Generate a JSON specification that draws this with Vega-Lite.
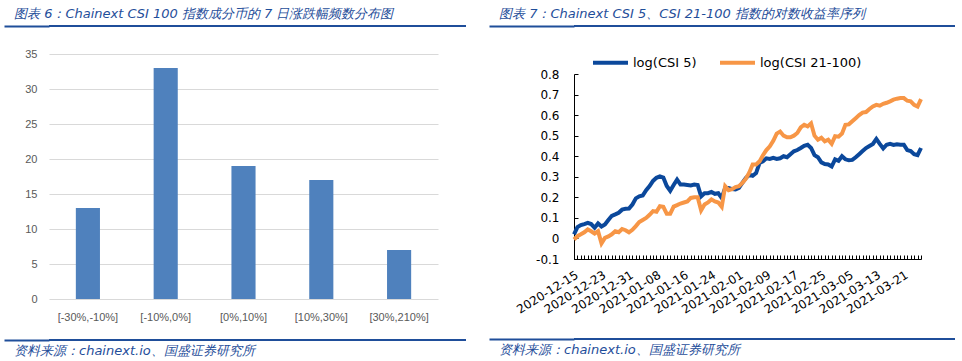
{
  "$schema": "https://vega.github.io/schema/vega-lite/v6.json",
  "padding": {"left": 3, "top": 8, "right": 0, "bottom": 0},
  "background": "white",
  "config": {"view": {"stroke": null}},
  "spacing": 22,
  "resolve": {"scale": {"color": "independent"}, "legend": {"color": "independent"}},
  "hconcat": [
    {
      "spacing": 21,
      "vconcat": [
        {
          "width": 417, "height": 2,
          "data": {"values": []},
          "mark": "point",
          "encoding": {"y": {"field": "v", "type": "quantitative", "scale": {"domain": [0, 1]}, "axis": {"title": null, "values": [0.5], "labels": false, "domain": false, "grid": false, "tickSize": 45, "tickWidth": 2, "tickColor": "#1F4E9A", "minExtent": 45, "maxExtent": 45}}},
          "view": {"fill": "#1F4E9A", "stroke": null},
          "title": {"text": "图表 6：Chainext CSI 100 指数成分币的 7 日涨跌幅频数分布图", "anchor": "start", "dx": 11, "offset": -6, "baseline": "alphabetic", "font": "DejaVu Sans", "fontStyle": "italic", "fontWeight": "normal", "fontSize": 13, "color": "#1F4E9A"}
        },
        {
          "spacing": 17,
          "vconcat": [
            {
              "width": 389, "height": 245,
              "data": {"values": [
                {"range": "[-30%,-10%]", "count": 13},
                {"range": "[-10%,0%]", "count": 33},
                {"range": "[0%,10%]", "count": 19},
                {"range": "[10%,30%]", "count": 17},
                {"range": "[30%,210%]", "count": 7}
              ]},
              "mark": {"type": "bar", "color": "#4F81BD"},
              "encoding": {
                "x": {"field": "range", "type": "nominal", "sort": null,
                  "scale": {"paddingInner": 0.69, "paddingOuter": 0.345},
                  "axis": {"title": null, "labelAngle": 0, "domain": false, "ticks": false, "labelPadding": 12, "labelFont": "Liberation Sans", "labelFontSize": 11, "labelColor": "#595959"}},
                "y": {"field": "count", "type": "quantitative",
                  "scale": {"domain": [0, 35], "nice": false},
                  "axis": {"title": null, "values": [0, 5, 10, 15, 20, 25, 30, 35], "domain": false, "ticks": false, "grid": true, "gridColor": "#D9D9D9", "labelPadding": 12, "minExtent": 45, "labelFont": "Liberation Sans", "labelFontSize": 11, "labelColor": "#595959"}}
              }
            },
            {
              "width": 417, "height": 2,
              "data": {"values": []},
              "mark": "point",
              "encoding": {"y": {"field": "v", "type": "quantitative", "scale": {"domain": [0, 1]}, "axis": {"title": null, "values": [0.5], "labels": false, "domain": false, "grid": false, "tickSize": 45, "tickWidth": 2, "tickColor": "#1F4E9A", "minExtent": 45, "maxExtent": 45}}},
              "view": {"fill": "#1F4E9A", "stroke": null},
              "title": {"text": "资料来源：chainext.io、国盛证券研究所", "orient": "bottom", "anchor": "start", "dx": 11, "offset": 4, "baseline": "top", "font": "DejaVu Sans", "fontStyle": "italic", "fontWeight": "normal", "fontSize": 13, "color": "#1F4E9A"}
            }
          ]
        }
      ]
    },
    {
      "spacing": 16,
      "resolve": {"scale": {"color": "independent"}, "legend": {"color": "independent"}},
      "vconcat": [
        {
          "width": 381, "height": 2,
          "data": {"values": []},
          "mark": "point",
          "encoding": {"y": {"field": "v", "type": "quantitative", "scale": {"domain": [0, 1]}, "axis": {"title": null, "values": [0.5], "labels": false, "domain": false, "grid": false, "tickSize": 85, "tickWidth": 2, "tickColor": "#1F4E9A", "minExtent": 85, "maxExtent": 85}}},
          "view": {"fill": "#1F4E9A", "stroke": null},
          "title": {"text": "图表 7：Chainext CSI 5、CSI 21-100 指数的对数收益率序列", "anchor": "start", "dx": 11, "offset": -6, "baseline": "alphabetic", "font": "DejaVu Sans", "fontStyle": "italic", "fontWeight": "normal", "fontSize": 13, "color": "#1F4E9A"}
        },
        {
          "spacing": 22,
          "resolve": {"scale": {"color": "independent"}, "legend": {"color": "independent"}},
          "vconcat": [
            {
              "width": 347, "height": 185,
              "data": {"values": [
                {"date": "2020-12-15", "csi5": 0.02, "csi21_100": -0.005},
                {"date": "2020-12-16", "csi5": 0.055, "csi21_100": 0.011},
                {"date": "2020-12-17", "csi5": 0.065, "csi21_100": 0.02},
                {"date": "2020-12-18", "csi5": 0.07, "csi21_100": 0.03},
                {"date": "2020-12-19", "csi5": 0.076, "csi21_100": 0.044},
                {"date": "2020-12-20", "csi5": 0.07, "csi21_100": 0.035},
                {"date": "2020-12-21", "csi5": 0.052, "csi21_100": 0.024},
                {"date": "2020-12-22", "csi5": 0.073, "csi21_100": 0.035},
                {"date": "2020-12-23", "csi5": 0.058, "csi21_100": -0.024},
                {"date": "2020-12-24", "csi5": 0.068, "csi21_100": 0.003},
                {"date": "2020-12-25", "csi5": 0.09, "csi21_100": 0.01},
                {"date": "2020-12-26", "csi5": 0.11, "csi21_100": 0.02},
                {"date": "2020-12-27", "csi5": 0.117, "csi21_100": 0.035},
                {"date": "2020-12-28", "csi5": 0.125, "csi21_100": 0.03},
                {"date": "2020-12-29", "csi5": 0.14, "csi21_100": 0.046},
                {"date": "2020-12-30", "csi5": 0.144, "csi21_100": 0.04},
                {"date": "2020-12-31", "csi5": 0.145, "csi21_100": 0.03},
                {"date": "2021-01-01", "csi5": 0.165, "csi21_100": 0.042},
                {"date": "2021-01-02", "csi5": 0.195, "csi21_100": 0.06},
                {"date": "2021-01-03", "csi5": 0.205, "csi21_100": 0.08},
                {"date": "2021-01-04", "csi5": 0.209, "csi21_100": 0.09},
                {"date": "2021-01-05", "csi5": 0.235, "csi21_100": 0.1},
                {"date": "2021-01-06", "csi5": 0.255, "csi21_100": 0.115},
                {"date": "2021-01-07", "csi5": 0.28, "csi21_100": 0.133},
                {"date": "2021-01-08", "csi5": 0.295, "csi21_100": 0.13},
                {"date": "2021-01-09", "csi5": 0.302, "csi21_100": 0.157},
                {"date": "2021-01-10", "csi5": 0.296, "csi21_100": 0.154},
                {"date": "2021-01-11", "csi5": 0.255, "csi21_100": 0.12},
                {"date": "2021-01-12", "csi5": 0.232, "csi21_100": 0.12},
                {"date": "2021-01-13", "csi5": 0.26, "csi21_100": 0.155},
                {"date": "2021-01-14", "csi5": 0.286, "csi21_100": 0.162},
                {"date": "2021-01-15", "csi5": 0.262, "csi21_100": 0.17},
                {"date": "2021-01-16", "csi5": 0.262, "csi21_100": 0.175},
                {"date": "2021-01-17", "csi5": 0.26, "csi21_100": 0.18},
                {"date": "2021-01-18", "csi5": 0.258, "csi21_100": 0.197},
                {"date": "2021-01-19", "csi5": 0.262, "csi21_100": 0.2},
                {"date": "2021-01-20", "csi5": 0.26, "csi21_100": 0.2},
                {"date": "2021-01-21", "csi5": 0.205, "csi21_100": 0.137},
                {"date": "2021-01-22", "csi5": 0.22, "csi21_100": 0.165},
                {"date": "2021-01-23", "csi5": 0.22, "csi21_100": 0.175},
                {"date": "2021-01-24", "csi5": 0.226, "csi21_100": 0.19},
                {"date": "2021-01-25", "csi5": 0.217, "csi21_100": 0.18},
                {"date": "2021-01-26", "csi5": 0.22, "csi21_100": 0.175},
                {"date": "2021-01-27", "csi5": 0.197, "csi21_100": 0.154},
                {"date": "2021-01-28", "csi5": 0.246, "csi21_100": 0.254},
                {"date": "2021-01-29", "csi5": 0.246, "csi21_100": 0.235},
                {"date": "2021-01-30", "csi5": 0.24, "csi21_100": 0.24},
                {"date": "2021-01-31", "csi5": 0.238, "csi21_100": 0.25},
                {"date": "2021-02-01", "csi5": 0.246, "csi21_100": 0.254},
                {"date": "2021-02-02", "csi5": 0.27, "csi21_100": 0.27},
                {"date": "2021-02-03", "csi5": 0.294, "csi21_100": 0.29},
                {"date": "2021-02-04", "csi5": 0.31, "csi21_100": 0.32},
                {"date": "2021-02-05", "csi5": 0.305, "csi21_100": 0.36},
                {"date": "2021-02-06", "csi5": 0.318, "csi21_100": 0.36},
                {"date": "2021-02-07", "csi5": 0.367, "csi21_100": 0.375},
                {"date": "2021-02-08", "csi5": 0.375, "csi21_100": 0.405},
                {"date": "2021-02-09", "csi5": 0.39, "csi21_100": 0.43},
                {"date": "2021-02-10", "csi5": 0.387, "csi21_100": 0.448},
                {"date": "2021-02-11", "csi5": 0.392, "csi21_100": 0.475},
                {"date": "2021-02-12", "csi5": 0.387, "csi21_100": 0.51},
                {"date": "2021-02-13", "csi5": 0.39, "csi21_100": 0.52},
                {"date": "2021-02-14", "csi5": 0.4, "csi21_100": 0.5},
                {"date": "2021-02-15", "csi5": 0.395, "csi21_100": 0.492},
                {"date": "2021-02-16", "csi5": 0.41, "csi21_100": 0.492},
                {"date": "2021-02-17", "csi5": 0.424, "csi21_100": 0.5},
                {"date": "2021-02-18", "csi5": 0.43, "csi21_100": 0.513},
                {"date": "2021-02-19", "csi5": 0.44, "csi21_100": 0.54},
                {"date": "2021-02-20", "csi5": 0.451, "csi21_100": 0.553},
                {"date": "2021-02-21", "csi5": 0.456, "csi21_100": 0.545},
                {"date": "2021-02-22", "csi5": 0.44, "csi21_100": 0.56},
                {"date": "2021-02-23", "csi5": 0.405, "csi21_100": 0.5},
                {"date": "2021-02-24", "csi5": 0.395, "csi21_100": 0.48},
                {"date": "2021-02-25", "csi5": 0.37, "csi21_100": 0.49},
                {"date": "2021-02-26", "csi5": 0.362, "csi21_100": 0.472},
                {"date": "2021-02-27", "csi5": 0.36, "csi21_100": 0.48},
                {"date": "2021-02-28", "csi5": 0.35, "csi21_100": 0.46},
                {"date": "2021-03-01", "csi5": 0.385, "csi21_100": 0.497},
                {"date": "2021-03-02", "csi5": 0.378, "csi21_100": 0.495},
                {"date": "2021-03-03", "csi5": 0.4, "csi21_100": 0.51},
                {"date": "2021-03-04", "csi5": 0.385, "csi21_100": 0.553},
                {"date": "2021-03-05", "csi5": 0.38, "csi21_100": 0.555},
                {"date": "2021-03-06", "csi5": 0.382, "csi21_100": 0.57},
                {"date": "2021-03-07", "csi5": 0.395, "csi21_100": 0.585},
                {"date": "2021-03-08", "csi5": 0.41, "csi21_100": 0.6},
                {"date": "2021-03-09", "csi5": 0.425, "csi21_100": 0.612},
                {"date": "2021-03-10", "csi5": 0.44, "csi21_100": 0.615},
                {"date": "2021-03-11", "csi5": 0.45, "csi21_100": 0.63},
                {"date": "2021-03-12", "csi5": 0.46, "csi21_100": 0.642},
                {"date": "2021-03-13", "csi5": 0.484, "csi21_100": 0.65},
                {"date": "2021-03-14", "csi5": 0.46, "csi21_100": 0.646},
                {"date": "2021-03-15", "csi5": 0.438, "csi21_100": 0.655},
                {"date": "2021-03-16", "csi5": 0.456, "csi21_100": 0.66},
                {"date": "2021-03-17", "csi5": 0.46, "csi21_100": 0.667},
                {"date": "2021-03-18", "csi5": 0.455, "csi21_100": 0.675},
                {"date": "2021-03-19", "csi5": 0.458, "csi21_100": 0.68},
                {"date": "2021-03-20", "csi5": 0.456, "csi21_100": 0.683},
                {"date": "2021-03-21", "csi5": 0.456, "csi21_100": 0.683},
                {"date": "2021-03-22", "csi5": 0.43, "csi21_100": 0.67},
                {"date": "2021-03-23", "csi5": 0.425, "csi21_100": 0.667},
                {"date": "2021-03-24", "csi5": 0.41, "csi21_100": 0.65},
                {"date": "2021-03-25", "csi5": 0.405, "csi21_100": 0.642},
                {"date": "2021-03-26", "csi5": 0.44, "csi21_100": 0.678}
              ]},
              "transform": [{"fold": ["csi5", "csi21_100"], "as": ["series", "value"]}],
              "mark": {"type": "line", "strokeWidth": 4},
              "encoding": {
                "x": {"field": "date", "type": "temporal",
                  "scale": {"type": "utc", "domain": [{"year": 2020, "month": 12, "date": 15, "utc": true}, {"year": 2021, "month": 3, "date": 26, "utc": true}]},
                  "axis": {"title": null, "grid": false, "tickCount": {"interval": "day", "step": 1},
                    "labelExpr": "round((datum.value - utc(2020, 11, 15)) / 86400000) % 8 == 0 ? utcFormat(datum.value, '%Y-%m-%d') : ''",
                    "labelAngle": -32, "labelAlign": "right", "labelBaseline": "top", "labelOverlap": false, "labelFlush": false,
                    "labelPadding": 14, "tickSize": -4, "tickColor": "black", "domainColor": "black",
                    "labelFont": "DejaVu Sans", "labelFontSize": 12, "labelColor": "black"}},
                "y": {"field": "value", "type": "quantitative",
                  "scale": {"domain": [-0.1, 0.8], "nice": false, "zero": false},
                  "axis": {"title": null, "grid": false, "values": [-0.1, 0, 0.1, 0.2, 0.3, 0.4, 0.5, 0.6, 0.7, 0.8],
                    "labelExpr": "datum.value == 0 ? '0' : replace(format(datum.value, '.1f'), '−', '-')",
                    "tickSize": -4, "labelPadding": 19, "minExtent": 85, "tickColor": "black", "domainColor": "black",
                    "labelFont": "DejaVu Sans", "labelFontSize": 12, "labelColor": "black"}},
                "color": {"field": "series", "type": "nominal",
                  "scale": {"domain": ["csi5", "csi21_100"], "range": ["#0B489B", "#F79646"]},
                  "legend": {"title": null, "orient": "none", "legendX": 17, "legendY": -31, "direction": "horizontal",
                    "symbolType": "stroke", "symbolSize": 1225, "symbolStrokeWidth": 4,
                    "labelExpr": "datum.label == 'csi5' ? 'log(CSI 5)' : 'log(CSI 21-100)'",
                    "labelFont": "DejaVu Sans", "labelFontSize": 13, "labelColor": "black", "labelOffset": 3, "columnPadding": 15}}
              }
            },
            {
              "width": 381, "height": 2,
              "data": {"values": []},
              "mark": "point",
              "encoding": {"y": {"field": "v", "type": "quantitative", "scale": {"domain": [0, 1]}, "axis": {"title": null, "values": [0.5], "labels": false, "domain": false, "grid": false, "tickSize": 85, "tickWidth": 2, "tickColor": "#1F4E9A", "minExtent": 85, "maxExtent": 85}}},
              "view": {"fill": "#1F4E9A", "stroke": null},
              "title": {"text": "资料来源：chainext.io、国盛证券研究所", "orient": "bottom", "anchor": "start", "dx": 11, "offset": 4, "baseline": "top", "font": "DejaVu Sans", "fontStyle": "italic", "fontWeight": "normal", "fontSize": 13, "color": "#1F4E9A"}
            }
          ]
        }
      ]
    }
  ]
}
